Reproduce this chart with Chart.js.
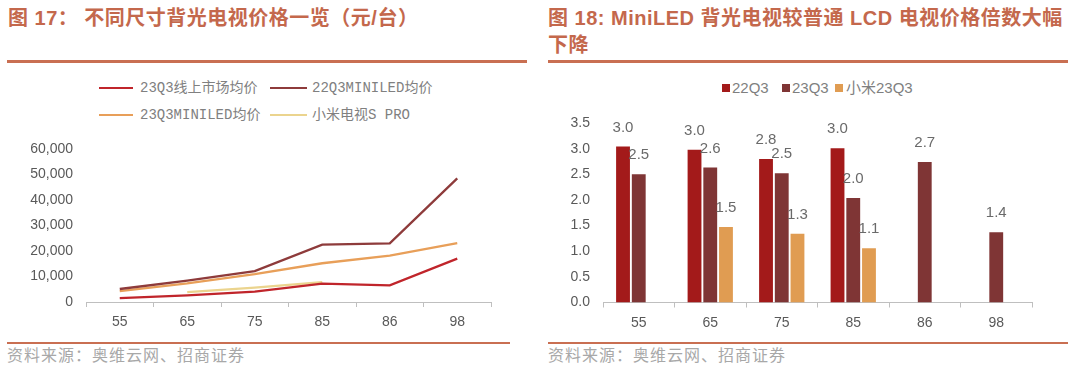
<!DOCTYPE html>
<html><head><meta charset="utf-8">
<script src="https://cdn.jsdelivr.net/npm/chart.js@4/dist/chart.umd.min.js"></script>
<style>
html,body{margin:0;padding:0;background:#fff;width:1080px;height:368px;overflow:hidden;position:relative;}
.abs{position:absolute;white-space:nowrap;}
.title{font-family:"Liberation Sans","Noto Sans CJK SC",sans-serif;font-weight:bold;font-size:20px;letter-spacing:0.5px;color:#c4684c;line-height:27px;}
.rule{position:absolute;height:3px;background:#c96f52;}
.src{font-family:"Noto Sans CJK SC",sans-serif;font-size:16px;letter-spacing:1px;color:#a8a8a8;line-height:20px;}
.lg1{font-family:"Liberation Mono","Noto Sans CJK SC",monospace;font-size:14px;color:#808080;line-height:18px;}
.lg2{font-family:"Liberation Sans","Noto Sans CJK SC",sans-serif;font-size:15px;color:#7f7f7f;line-height:18px;}
.ln{position:absolute;height:2px;}
.sq{position:absolute;width:8px;height:8px;}
</style></head>
<body>
<div class="abs title" style="left:8px;top:5px;">图 17：&nbsp;不同尺寸背光电视价格一览（元/台）</div>
<div class="rule" style="left:7px;top:60px;width:520px;"></div>
<div class="abs title" style="left:548px;top:5px;">图 18: MiniLED 背光电视较普通 LCD 电视价格倍数大幅<br>下降</div>
<div class="rule" style="left:548px;top:60px;width:520px;"></div>

<div class="ln" style="left:99px;top:87px;width:34px;background:#c0252b;"></div>
<div class="abs lg1" style="left:140px;top:79px;">23Q3线上市场均价</div>
<div class="ln" style="left:270px;top:87px;width:37px;background:#8e3b3b;"></div>
<div class="abs lg1" style="left:312px;top:79px;">22Q3MINILED均价</div>
<div class="ln" style="left:99px;top:114px;width:34px;background:#e89f59;"></div>
<div class="abs lg1" style="left:140px;top:106px;">23Q3MINILED均价</div>
<div class="ln" style="left:270px;top:114px;width:37px;background:#ebd48e;"></div>
<div class="abs lg1" style="left:312px;top:106px;">小米电视S PRO</div>

<div class="sq" style="left:722px;top:84px;background:#a31a1a;"></div>
<div class="abs lg2" style="left:732px;top:79px;">22Q3</div>
<div class="sq" style="left:782px;top:84px;background:#7f3535;"></div>
<div class="abs lg2" style="left:792px;top:79px;">23Q3</div>
<div class="sq" style="left:835px;top:84px;background:#e09c52;"></div>
<div class="abs lg2" style="left:846px;top:79px;">小米23Q3</div>

<canvas id="c1" width="540" height="212" style="position:absolute;left:0;top:128px;"></canvas>
<canvas id="c2" width="540" height="238" style="position:absolute;left:540px;top:102px;"></canvas>

<div class="rule" style="left:7px;top:342px;width:503px;height:2px;"></div>
<div class="rule" style="left:548px;top:342px;width:520px;height:2px;"></div>
<div class="abs src" style="left:7px;top:344px;">资料来源：奥维云网、招商证券</div>
<div class="abs src" style="left:548px;top:344px;">资料来源：奥维云网、招商证券</div>

<script>
// ---- data: chart 17 ----
const sizes = ["55","65","75","85","86","98"];
const online23Q3 = [1500, 2600, 4100, 7200, 6500, 17000];
const miniled22Q3 = [5100, 8400, 12100, 22500, 23000, 48500];
const miniled23Q3 = [4300, 7300, 10900, 15200, 18200, 23100];
const xiaomiSPro = [null, 3900, 5600, 7800, null, null];
const yTicks1 = [0, 10000, 20000, 30000, 40000, 50000, 60000];

// ---- data: chart 18 ----
const sizes2 = ["55","65","75","85","86","98"];
const ratio22Q3 = [3.04, 2.98, 2.80, 3.01, null, null];
const ratio23Q3 = [2.50, 2.63, 2.52, 2.04, 2.74, 1.37];
const ratioXiaomi = [null, 1.47, 1.34, 1.06, null, null];
const yTicks2 = [0, 0.5, 1.0, 1.5, 2.0, 2.5, 3.0, 3.5];

const tickFont = {family:'"Liberation Sans", Arial, sans-serif', size:14};
const tickColor = '#595959';
const axisColor = '#bfbfbf';

new Chart(document.getElementById('c1'), {
  type:'line',
  data:{labels:sizes, datasets:[
    {label:'23Q3线上市场均价', data:online23Q3, borderColor:'#c0252b'},
    {label:'22Q3MINILED均价', data:miniled22Q3, borderColor:'#8e3b3b'},
    {label:'23Q3MINILED均价', data:miniled23Q3, borderColor:'#e89f59'},
    {label:'小米电视S PRO', data:xiaomiSPro, borderColor:'#ebd48e'}
  ].map(d=>Object.assign(d,{borderWidth:2.3,pointRadius:0,tension:0,fill:false,spanGaps:false}))},
  options:{
    responsive:false, animation:false, locale:'en-US',
    layout:{padding:{top:21,right:49,left:0,bottom:0}},
    plugins:{legend:{display:false},tooltip:{enabled:false}},
    scales:{
      x:{offset:true,
        grid:{display:true,offset:true,drawOnChartArea:false,drawTicks:true,tickLength:5,color:axisColor},
        border:{display:true,color:axisColor,width:1},
        ticks:{font:tickFont,color:tickColor,padding:7,maxRotation:0},
        afterFit:s=>{s.height=38;}
      },
      y:{min:yTicks1[0], max:yTicks1[yTicks1.length-1],
        afterBuildTicks:s=>{s.ticks=yTicks1.map(v=>({value:v}));},
        grid:{display:false}, border:{display:false},
        ticks:{font:tickFont,color:tickColor,padding:5},
        afterFit:s=>{s.width=86;}
      }
    }
  }
});

const valueLabels = {
  id:'valueLabels',
  afterDatasetsDraw(chart){
    const ctx=chart.ctx; ctx.save();
    ctx.font='15px "Liberation Sans", Arial, sans-serif';
    ctx.fillStyle='#6a6a6a'; ctx.textAlign='center'; ctx.textBaseline='middle';
    chart.data.datasets.forEach((ds,i)=>{
      const meta=chart.getDatasetMeta(i);
      meta.data.forEach((bar,j)=>{
        const v=ds.data[j]; if(v==null) return;
        ctx.fillText(v.toFixed(1), bar.x, bar.y-19);
      });
    });
    ctx.restore();
  }
};

new Chart(document.getElementById('c2'), {
  type:'bar',
  data:{labels:sizes2, datasets:[
    {label:'22Q3', data:ratio22Q3, backgroundColor:'#a31a1a'},
    {label:'23Q3', data:ratio23Q3, backgroundColor:'#7f3535'},
    {label:'小米23Q3', data:ratioXiaomi, backgroundColor:'#e09c52'}
  ].map(d=>Object.assign(d,{categoryPercentage:0.66,barPercentage:0.88}))},
  options:{
    responsive:false, animation:false,
    layout:{padding:{top:21,right:48,left:0,bottom:0}},
    plugins:{legend:{display:false},tooltip:{enabled:false}},
    scales:{
      x:{grid:{display:true,offset:true,drawOnChartArea:false,drawTicks:true,tickLength:5,color:axisColor},
        border:{display:true,color:axisColor,width:1},
        ticks:{font:tickFont,color:tickColor,padding:7,maxRotation:0},
        afterFit:s=>{s.height=37.5;}
      },
      y:{min:0,max:3.5,
        afterBuildTicks:s=>{s.ticks=yTicks2.map(v=>({value:v}));},
        grid:{display:false}, border:{display:false},
        ticks:{font:tickFont,color:tickColor,padding:5,callback:v=>Number(v).toFixed(1)},
        afterFit:s=>{s.width=63;}
      }
    }
  },
  plugins:[valueLabels]
});
</script>
</body></html>
